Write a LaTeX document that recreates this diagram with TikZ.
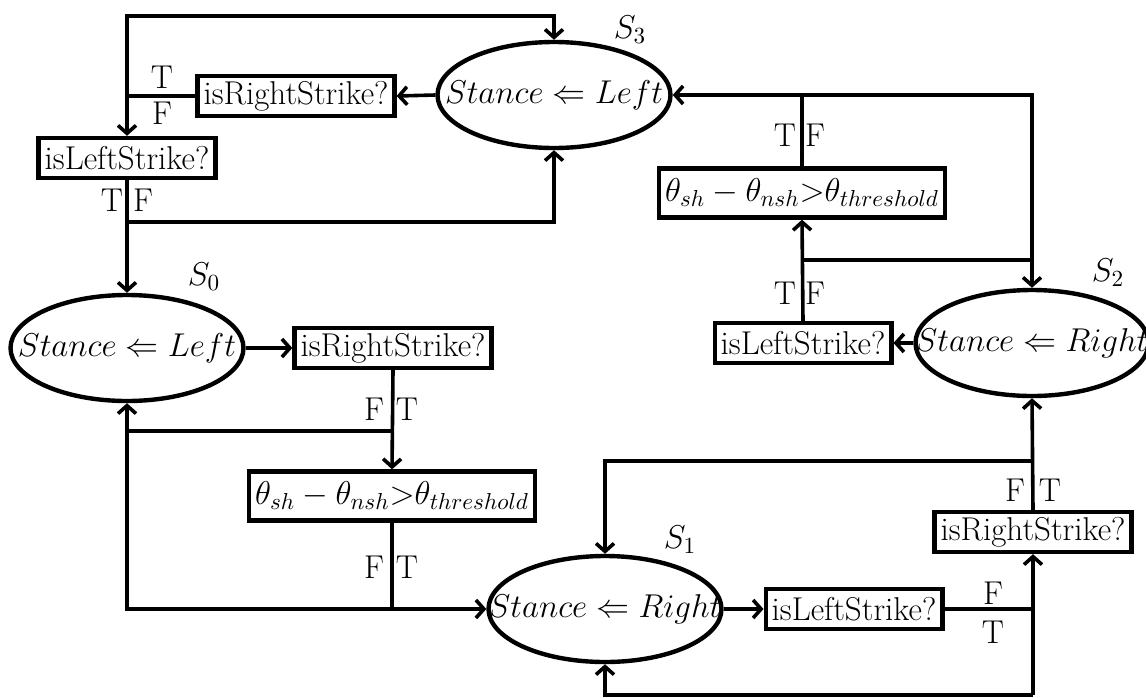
\documentclass[tikz,border=0pt]{standalone}
\usepackage{fix-cm}
\usepackage{amsmath,amssymb}
\usepackage{tikz}
\usetikzlibrary{shapes,arrows.meta,positioning,calc}
\tikzstyle{state} = [ellipse,draw,line width=2.2pt,minimum width=116.5pt,minimum height=53pt,inner sep=0pt]
\tikzstyle{test} = [rectangle,draw,line width=2.2pt,minimum height=20pt,inner xsep=3pt,inner ysep=0pt]
\tikzstyle{cmp} = [rectangle,draw,line width=2.2pt,minimum height=24.5pt,inner xsep=3pt,inner ysep=0pt]
\tikzstyle{tf} = [inner sep=0pt]
\tikzset{>={Straight Barb[length=4pt,width=9pt]}}
\newcommand{\stance}[1]{\makebox[0pt]{$Stance \Leftarrow #1$}}

\begin{document}
\begin{tikzpicture}[x=0.5pt,y=-0.5pt,line width=1.8pt,font=\fontsize{16.5}{19}\selectfont]
    \useasboundingbox (0,0) rectangle (1146,697);

    % states
    \node [state] (s3) at (554,95) {\stance{Left}};
    \node [state] (s0) at (127,348) {\stance{Left}};
    \node [state] (s1) at (605,609) {\stance{Right}};
    \node [state] (s2) at (1032,343) {\stance{Right}};
    \node at (630,30) {$S_3$};
    \node at (204,277) {$S_0$};
    \node at (680,540) {$S_1$};
    \node at (1108,273) {$S_2$};

    % tests
    \node [test] (rs3) at (296,96) {isRightStrike?};
    \node [test] (ls3) at (127,158) {isLeftStrike?};
    \node [test] (rs0) at (393,348) {isRightStrike?};
    \node [cmp] (th0) at (392,496) {$\theta_{sh}-\theta_{nsh}{>}\theta_{threshold}$};
    \node [test] (ls1) at (854,609) {isLeftStrike?};
    \node [test] (rs1) at (1033,532) {isRightStrike?};
    \node [test] (ls2) at (803,343) {isLeftStrike?};
    \node [cmp] (th2) at (802,193) {$\theta_{sh}-\theta_{nsh}{>}\theta_{threshold}$};

    % junctions
    \coordinate (j1) at (127,96);
    \coordinate (top) at (127,16);
    \coordinate (j2) at (127,222);
    \coordinate (j3) at (393,431);
    \coordinate (j5) at (392,609);
    \coordinate (j6) at (1033,609);
    \coordinate (bot) at (1033,695);
    \coordinate (j7) at (1033,461);
    \coordinate (j8) at (802,260);

    % S3
    \draw [->] (s3.west) -- (rs3.east);
    \draw (rs3.west) -- (j1);
    \draw [->] (j1) -- (top) -| (s3.north);
    \draw [->] (j1) -- (ls3.north);
    \draw [->] (ls3.south) -- (s0.north);
    \draw [->] (j2) -| (s3.south);
    \node [tf] at (162,77) {T};
    \node [tf] at (162,113) {F};
    \node [tf] at (112,200) {T};
    \node [tf] at (143,200) {F};

    % S0
    \draw [->] (s0.east) -- (rs0.west);
    \draw [->] (rs0.south) -- (th0.north);
    \draw (j3) -- (j3 -| s0.south);
    \draw (th0.south) -- (j5);
    \draw [->] (j5) -| (s0.south);
    \draw [->] (j5) -- (s1.west);
    \node [tf] at (374,409) {F};
    \node [tf] at (407,409) {T};
    \node [tf] at (374,567) {F};
    \node [tf] at (407,567) {T};

    % S1
    \draw [->] (s1.east) -- (ls1.west);
    \draw (ls1.east) -- (j6);
    \draw [->] (bot) -- (rs1.south);
    \draw [->] (bot) -| (s1.south);
    \draw [->] (rs1.north) -- (s2.south);
    \draw [->] (j7) -| (s1.north);
    \node [tf] at (993,593) {F};
    \node [tf] at (993,632) {T};
    \node [tf] at (1015,490) {F};
    \node [tf] at (1050,490) {T};

    % S2
    \draw [->] (s2.west) -- (ls2.east);
    \draw [->] (ls2.north) -- (th2.south);
    \draw [->] (th2.north) |- (s3.east);
    \draw [->] (th2.north |- s3.east) -| (s2.north);
    \draw (j8) -- (j8 -| s2.north);
    \node [tf] at (785,293) {T};
    \node [tf] at (815,293) {F};
    \node [tf] at (785,135) {T};
    \node [tf] at (815,135) {F};
\end{tikzpicture}
\end{document}
